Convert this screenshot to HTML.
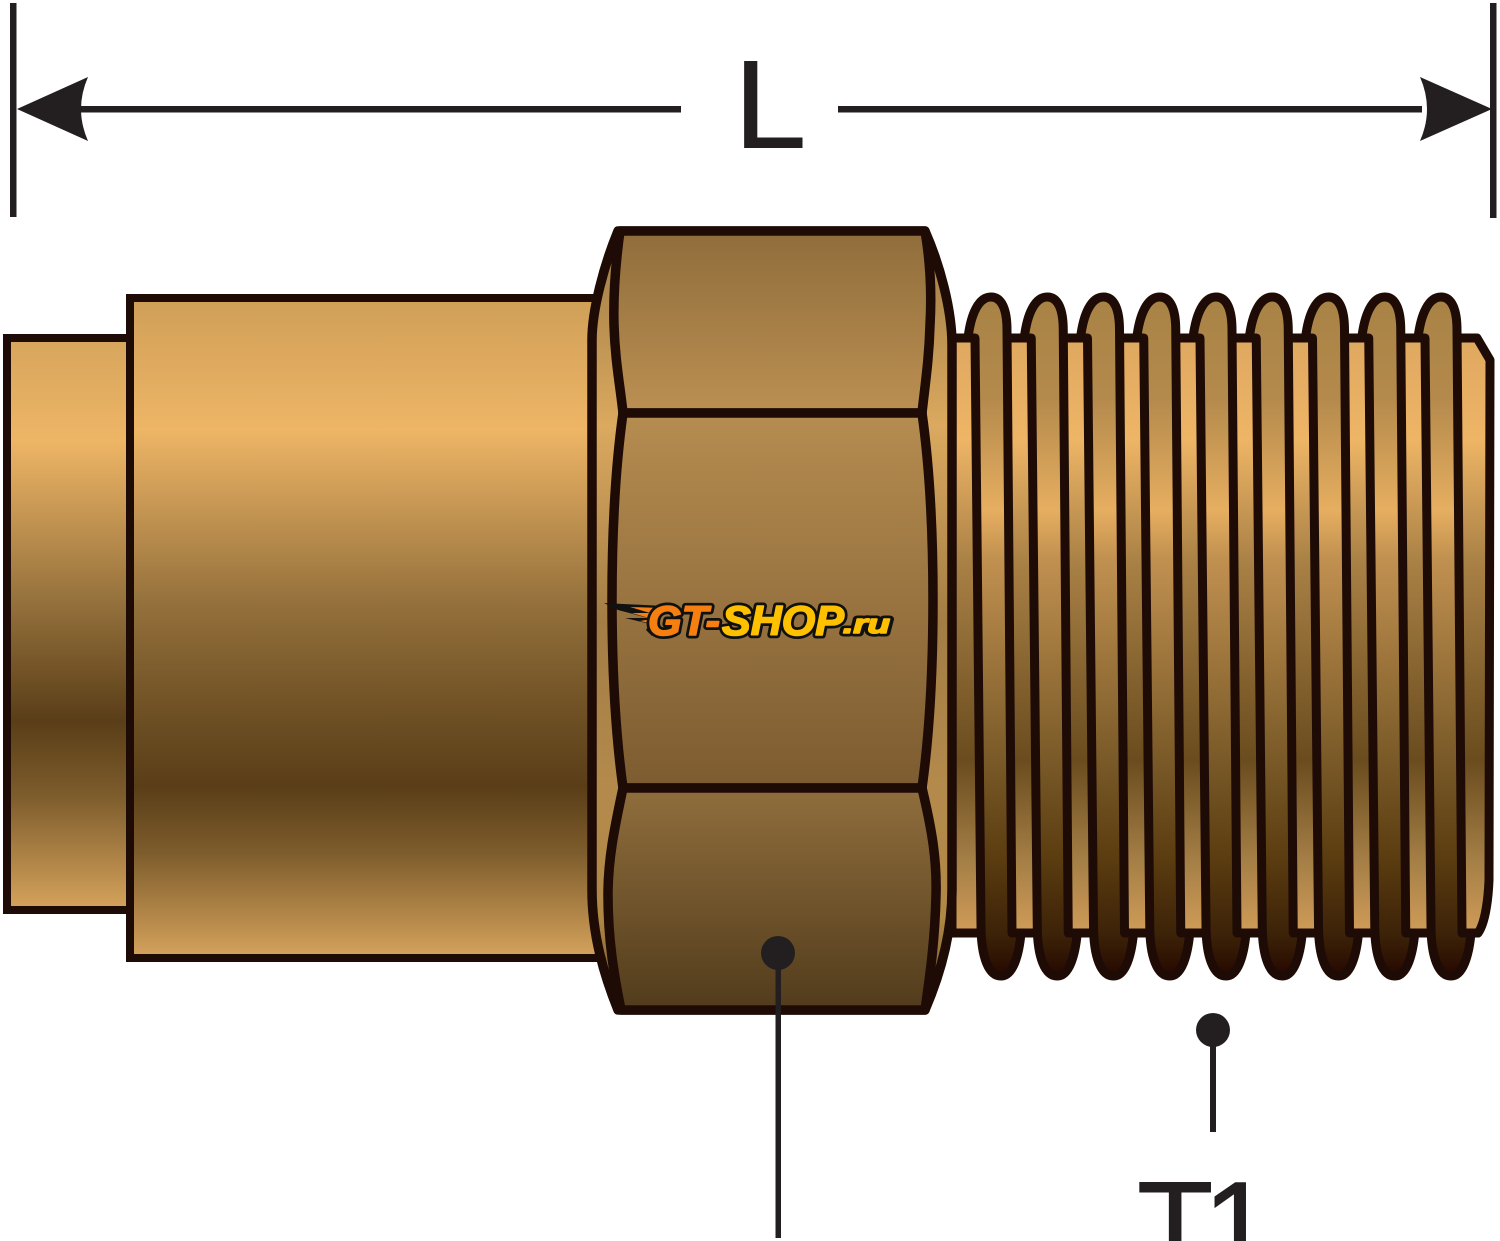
<!DOCTYPE html>
<html><head><meta charset="utf-8"><style>html,body{margin:0;padding:0;background:#fff}svg{display:block}</style></head>
<body>
<svg width="1500" height="1241" viewBox="0 0 1500 1241" xmlns="http://www.w3.org/2000/svg">
<defs>
<linearGradient id="body" gradientUnits="userSpaceOnUse" x1="0" y1="298" x2="0" y2="958">
<stop offset="0" stop-color="#cf9f58"/><stop offset=".2" stop-color="#eeb566"/><stop offset=".46" stop-color="#95713c"/><stop offset=".63" stop-color="#6e5024"/><stop offset=".74" stop-color="#5a3e18"/><stop offset=".84" stop-color="#7d5c2c"/><stop offset="1" stop-color="#d6a35c"/>
</linearGradient>
<linearGradient id="stub" gradientUnits="userSpaceOnUse" x1="0" y1="338" x2="0" y2="910">
<stop offset="0" stop-color="#d6a55c"/><stop offset=".18" stop-color="#eeb566"/><stop offset=".46" stop-color="#95713c"/><stop offset=".67" stop-color="#5a3e18"/><stop offset=".8" stop-color="#7d5c2c"/><stop offset="1" stop-color="#d6a35c"/>
</linearGradient>
<linearGradient id="root" gradientUnits="userSpaceOnUse" x1="0" y1="338" x2="0" y2="933">
<stop offset="0" stop-color="#dfa860"/><stop offset=".17" stop-color="#eeb566"/><stop offset=".38" stop-color="#a88045"/><stop offset=".71" stop-color="#6a4c1e"/><stop offset=".88" stop-color="#a57f46"/><stop offset="1" stop-color="#d09c58"/>
</linearGradient>
<linearGradient id="crest" gradientUnits="userSpaceOnUse" x1="0" y1="297" x2="0" y2="976">
<stop offset="0" stop-color="#a88245"/><stop offset=".15" stop-color="#b48a4c"/><stop offset=".314" stop-color="#e6ae60"/><stop offset=".387" stop-color="#c09050"/><stop offset=".68" stop-color="#7a5a28"/><stop offset=".83" stop-color="#5a3c10"/><stop offset=".94" stop-color="#3c2208"/><stop offset="1" stop-color="#260800"/>
</linearGradient>
<linearGradient id="cham" gradientUnits="userSpaceOnUse" x1="0" y1="231" x2="0" y2="1010">
<stop offset="0" stop-color="#9c7a44"/><stop offset=".25" stop-color="#dba95f"/><stop offset=".5" stop-color="#a37d45"/><stop offset=".72" stop-color="#b48a4c"/><stop offset=".88" stop-color="#b08846"/><stop offset="1" stop-color="#6e5228"/>
</linearGradient>
<linearGradient id="f1" gradientUnits="userSpaceOnUse" x1="0" y1="232" x2="0" y2="410"><stop offset="0" stop-color="#8f6d3b"/><stop offset="1" stop-color="#bb8f52"/></linearGradient>
<linearGradient id="f2" gradientUnits="userSpaceOnUse" x1="0" y1="415" x2="0" y2="785"><stop offset="0" stop-color="#b58c50"/><stop offset="1" stop-color="#7d5c31"/></linearGradient>
<linearGradient id="f3" gradientUnits="userSpaceOnUse" x1="0" y1="792" x2="0" y2="1008"><stop offset="0" stop-color="#8f6d3c"/><stop offset="1" stop-color="#523c1c"/></linearGradient>
<path id="th" d="M975,338 L968,338 C971,313 979,297 991,297 C1002,297 1007,310 1007,330 L1012,933 L1021,933 C1019,955 1013,976 1001,976 C989,976 981,958 981,925 Z" fill="url(#crest)" stroke="#1e0b06" stroke-width="9" stroke-linejoin="round"/>
</defs>

<!-- dimension -->
<g fill="#231f20">
<rect x="10" y="3" width="6.5" height="214"/>
<rect x="1490" y="3" width="6.5" height="215"/>
<rect x="78" y="106" width="603" height="6.5"/>
<rect x="838" y="106" width="584" height="6.5"/>
<path d="M17,109 L88,77 Q74,109 88,141 Z"/>
<path d="M1492,109 L1420,77 Q1434,109 1420,141 Z"/>
</g>
<text transform="translate(734,147.5) scale(1.04,1)" font-family="'Liberation Sans',sans-serif" font-size="125" fill="#231f20" stroke="#231f20" stroke-width="1">L</text>

<!-- root cylinder + threads -->
<path d="M952,338 L1477,338 L1490,360 L1489,880 C1488,905 1484,925 1478,933 L952,933 Z" fill="url(#root)" stroke="#1e0b06" stroke-width="9" stroke-linejoin="round"/>
<use href="#th"/>
<use href="#th" x="56.25"/>
<use href="#th" x="112.5"/>
<use href="#th" x="168.75"/>
<use href="#th" x="225"/>
<use href="#th" x="281.25"/>
<use href="#th" x="337.5"/>
<use href="#th" x="393.75"/>
<use href="#th" x="450"/>

<!-- stub and body -->
<rect x="7" y="338" width="124" height="572" fill="url(#stub)" stroke="#1e0b06" stroke-width="8"/>
<rect x="130" y="298" width="475" height="660" fill="url(#body)" stroke="#1e0b06" stroke-width="8"/>

<!-- hex -->
<path d="M618,231 L925,231 C940,265 952,310 952,345 L952,890 C952,935 940,975 925,1010 L618,1010 C604,975 592,935 592,890 L592,340 C592,310 604,265 618,231 Z" fill="url(#cham)" stroke="#1e0b06" stroke-width="9.5" stroke-linejoin="round"/>
<path d="M620,231 L925,231 C930,260 932,290 930,325 C929,360 925,385 922,413 L623,413 C620,385 615,360 614,325 C613,290 616,260 620,231 Z" fill="url(#f1)" stroke="#1e0b06" stroke-width="9.5" stroke-linejoin="round"/>
<path d="M623,413 L922,413 C930,470 933,540 933,600 C933,670 930,730 922,788 L623,788 C615,730 612,670 612,600 C612,540 615,470 623,413 Z" fill="url(#f2)" stroke="#1e0b06" stroke-width="9.5" stroke-linejoin="round"/>
<path d="M623,788 L922,788 C932,830 937,860 936,895 C935,940 930,975 925,1010 L621,1010 C614,975 608,940 608,895 C608,860 614,830 623,788 Z" fill="url(#f3)" stroke="#1e0b06" stroke-width="9.5" stroke-linejoin="round"/>

<!-- logo -->
<path d="M604,603 L664,606 L652,636 L646,630 L650,624 L625,618 L648,618 L618,610 Z" fill="#111"/>
<path d="M630,607 L662,608 L653,624 L640,621 L652,619 L632,613 L650,613 Z" fill="#f57f10"/>
<g font-family="'Liberation Sans',sans-serif" font-weight="700" font-style="italic" stroke-linejoin="round">
<g stroke="#111" stroke-width="7" fill="#111">
<text x="648" y="635" font-size="42" style="text-transform:uppercase" textLength="72" lengthAdjust="spacingAndGlyphs">gt-</text>
<text x="722" y="635" font-size="42" style="text-transform:uppercase" textLength="122" lengthAdjust="spacingAndGlyphs">ShOP</text>
<text x="843" y="633" font-size="27" textLength="47" lengthAdjust="spacingAndGlyphs">.ru</text>
</g>
<g stroke-width="1.6">
<text x="648" y="635" font-size="42" fill="#f57f10" stroke="#f57f10" style="text-transform:uppercase" textLength="72" lengthAdjust="spacingAndGlyphs" aria-hidden="true">gt-</text>
<text x="722" y="635" font-size="42" fill="#ffc000" stroke="#ffc000" style="text-transform:uppercase" textLength="122" lengthAdjust="spacingAndGlyphs" aria-hidden="true">ShOP</text>
<text x="843" y="633" font-size="27" fill="#ffc000" stroke="#ffc000" textLength="47" lengthAdjust="spacingAndGlyphs" aria-hidden="true">.ru</text>
</g>
</g>

<!-- callouts -->
<circle cx="778" cy="953" r="17" fill="#231f20"/>
<rect x="775.5" y="953" width="5.5" height="285" fill="#231f20"/>
<circle cx="1213" cy="1030" r="17" fill="#231f20"/>
<rect x="1210" y="1030" width="6" height="102" fill="#231f20"/>
<text y="1269" font-family="'Liberation Sans',sans-serif" font-size="125" fill="#231f20" stroke="#231f20" stroke-width="1"><tspan x="1137">T</tspan><tspan x="1203">1</tspan></text>
</svg>
</body></html>
